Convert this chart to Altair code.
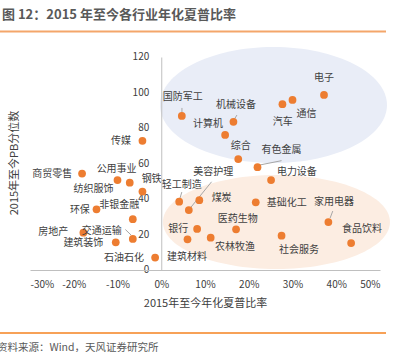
import altair as alt
import pandas as pd

FONT = "Noto Sans CJK SC"

# ---- data ----
names = ["电子", "通信", "汽车", "机械设备", "计算机", "国防军工", "传媒", "综合",
         "有色金属", "电力设备", "轻工制造", "煤炭", "美容护理", "基础化工", "家用电器",
         "食品饮料", "医药生物", "社会服务", "银行", "建筑材料", "农林牧渔", "商贸零售",
         "纺织服饰", "公用事业", "钢铁", "环保", "非银金融", "房地产", "交通运输",
         "建筑装饰", "石油石化"]
sharpe = [37.2, 30.0, 27.7, 16.5, 14.6, 4.7, -4.3, 17.6,
          22.0, 25.1, 4.1, 8.7, 6.3, 21.6, 38.2,
          43.4, 17.1, 27.5, 8.2, 6.0, 11.3, -18.1,
          -10.0, -7.2, -4.3, -14.8, -6.5, -17.8, -6.5,
          -10.4, -1.4]
pb = [98.6, 95.8, 93.4, 83.5, 76.1, 86.8, 72.8, 62.5,
      57.9, 50.7, 38.5, 39.3, 33.8, 38.1, 27.0,
      15.2, 22.9, 19.3, 23.1, 17.3, 18.2, 54.3,
      50.7, 49.2, 44.2, 34.2, 28.6, 21.0, 17.5,
      15.6, 7.0]
# label anchors (data units)
label_x = [37.2, 33.2, 27.75, 17.1, 10.7, 4.9, -9.2, 18.15,
           27.5, 31.0, 4.7, 13.8, 11.9, 28.7, 39.5,
           45.9, 17.5, 31.5, 3.9, 5.9, 16.85, -24.9,
           -15.5, -10.2, -2.2, -18.6, -9.6, -24.7, -13.6,
           -17.8, -8.5]
label_y = [108.3, 87.9, 83.5, 93.0, 82.3, 97.3, 72.7, 69.9,
           67.6, 55.2, 47.9, 40.4, 55.0, 37.6, 38.1,
           22.9, 28.9, 11.3, 23.1, 7.2, 13.1, 54.3,
           45.6, 56.7, 51.3, 33.8, 36.5, 21.6, 22.1,
           15.0, 6.9]

# leader lines (data units)
lead_x1 = [4.73, 17.3, 22.6, 11.5, 4.7, 39.2, -8.2]
lead_y1 = [91.3, 87.3, 59.2, 49.7, 43.9, 33.2, 22.8]
lead_x2 = [4.73, 16.6, 27.5, 6.6, 4.3, 38.6, -6.9]
lead_y2 = [88.5, 84.5, 61.6, 34.8, 40.6, 29.3, 19.7]

# highlight regions (centres in data units)
region_x = [25.65, 26.33]
region_y = [93.0, 27.0]
region_color = ["#E9EDF7", "#FCEDE2"]

x_ticks = [-30, -20, -10, 0, 10, 20, 30, 40, 50]
y_ticks = [0, 20, 40, 60, 80, 100, 120]


def ellipse_path(r):
    k = 0.5523
    return (f"M-1,0 C-1,{-k*r:.4f} {-k:.4f},{-r:.4f} 0,{-r:.4f} "
            f"C{k:.4f},{-r:.4f} 1,{-k*r:.4f} 1,0 "
            f"C1,{k*r:.4f} {k:.4f},{r:.4f} 0,{r:.4f} "
            f"C{-k:.4f},{r:.4f} -1,{k*r:.4f} -1,0 Z")


df = pd.DataFrame({"name": names, "sharpe": sharpe, "pb": pb,
                   "lx": label_x, "ly": label_y})
lead = pd.DataFrame({"x1": lead_x1, "y1": lead_y1, "x2": lead_x2, "y2": lead_y2})
yt = pd.DataFrame({"v": y_ticks, "x0": [0] * len(y_ticks)})

xs = alt.Scale(domain=[-30, 50], nice=False, zero=False)
ys = alt.Scale(domain=[0, 120], nice=False, zero=False)

xax = alt.Axis(values=x_ticks, labelExpr="datum.value + '%'", grid=False, ticks=False,
               tickSize=0, domainColor="#BFBFBF", labelFontSize=10, labelColor="#404040",
               labelFont=FONT, labelPadding=9, labelOverlap=False,
               title="2015年至今年化夏普比率",
               titleFont=FONT, titleFontSize=11, titleFontWeight="normal",
               titleColor="#404040", titlePadding=8, zindex=1)
yax = alt.Axis(values=y_ticks, grid=False, ticks=False, tickSize=0, domainColor="#BFBFBF",
               labels=False, offset=-131.25, title=None, zindex=1)

one = pd.DataFrame({"a": [0]})

layers = []
for cx, cy, col, w, r in [(region_x[0], region_y[0], region_color[0], 227, 58 / 113.5),
                          (region_x[1], region_y[1], region_color[1], 227, 47 / 113.5)]:
    layers.append(
        alt.Chart(pd.DataFrame({"cx": [cx], "cy": [cy]})).mark_point(
            shape=ellipse_path(r), filled=True, fill=col, opacity=1,
            size=w * w
        ).encode(x=alt.X("cx:Q", scale=xs, axis=xax), y=alt.Y("cy:Q", scale=ys, axis=yax))
    )

ylabels = alt.Chart(yt).mark_text(font=FONT, fontSize=10, color="#404040", align="right",
                                  baseline="middle", dx=-12).encode(
    x=alt.X("x0:Q", scale=xs), y=alt.Y("v:Q", scale=ys), text="v:Q")

leaders = alt.Chart(lead).mark_rule(color="#A6A6A6", strokeWidth=1).encode(
    x=alt.X("x1:Q", scale=xs), y=alt.Y("y1:Q", scale=ys), x2="x2:Q", y2="y2:Q")

points = alt.Chart(df).mark_circle(color="#ED7D31", opacity=1, size=60).encode(
    x=alt.X("sharpe:Q", scale=xs), y=alt.Y("pb:Q", scale=ys))

labels = alt.Chart(df).mark_text(font=FONT, fontSize=10, color="#404040",
                                 align="center", baseline="middle").encode(
    x=alt.X("lx:Q", scale=xs), y=alt.Y("ly:Q", scale=ys), text="name:N")

ytitle = alt.Chart(one).mark_text(font=FONT, fontSize=11, color="#404040", angle=270,
                                  align="center", baseline="middle",
                                  text="2015年至今PB分位数").encode(
    x=alt.value(-15), y=alt.value(106))

title = alt.Chart(one).mark_text(font=FONT, fontSize=13, fontWeight="bold", color="#595959",
                                 align="left", baseline="middle",
                                 text="图 12：2015 年至今各行业年化夏普比率").encode(
    x=alt.value(-28), y=alt.value(-42))

top_line = alt.Chart(one).mark_rule(color="#F4A66A", strokeWidth=2).encode(
    x=alt.value(-30), x2=alt.value(356), y=alt.value(-25.5))

foot_line = alt.Chart(one).mark_rule(color="#F5821F", strokeWidth=1.5).encode(
    x=alt.value(-30), x2=alt.value(356), y=alt.value(276))

footer = alt.Chart(one).mark_text(font=FONT, fontSize=10.5, color="#595959",
                                  align="left", baseline="middle",
                                  text="资料来源：Wind，天风证券研究所").encode(
    x=alt.value(-33), y=alt.value(291))

chart = alt.layer(*layers, ylabels, leaders, points, labels, ytitle, title, top_line,
                  foot_line, footer).properties(
    width=350, height=213,
    autosize=alt.AutoSizeParams(type="none"),
    padding={"left": 30, "top": 57, "right": 14, "bottom": 82},
    background="white",
).configure_view(stroke=None)

chart.save("out.html", embed_options={"renderer": "svg", "actions": False})
